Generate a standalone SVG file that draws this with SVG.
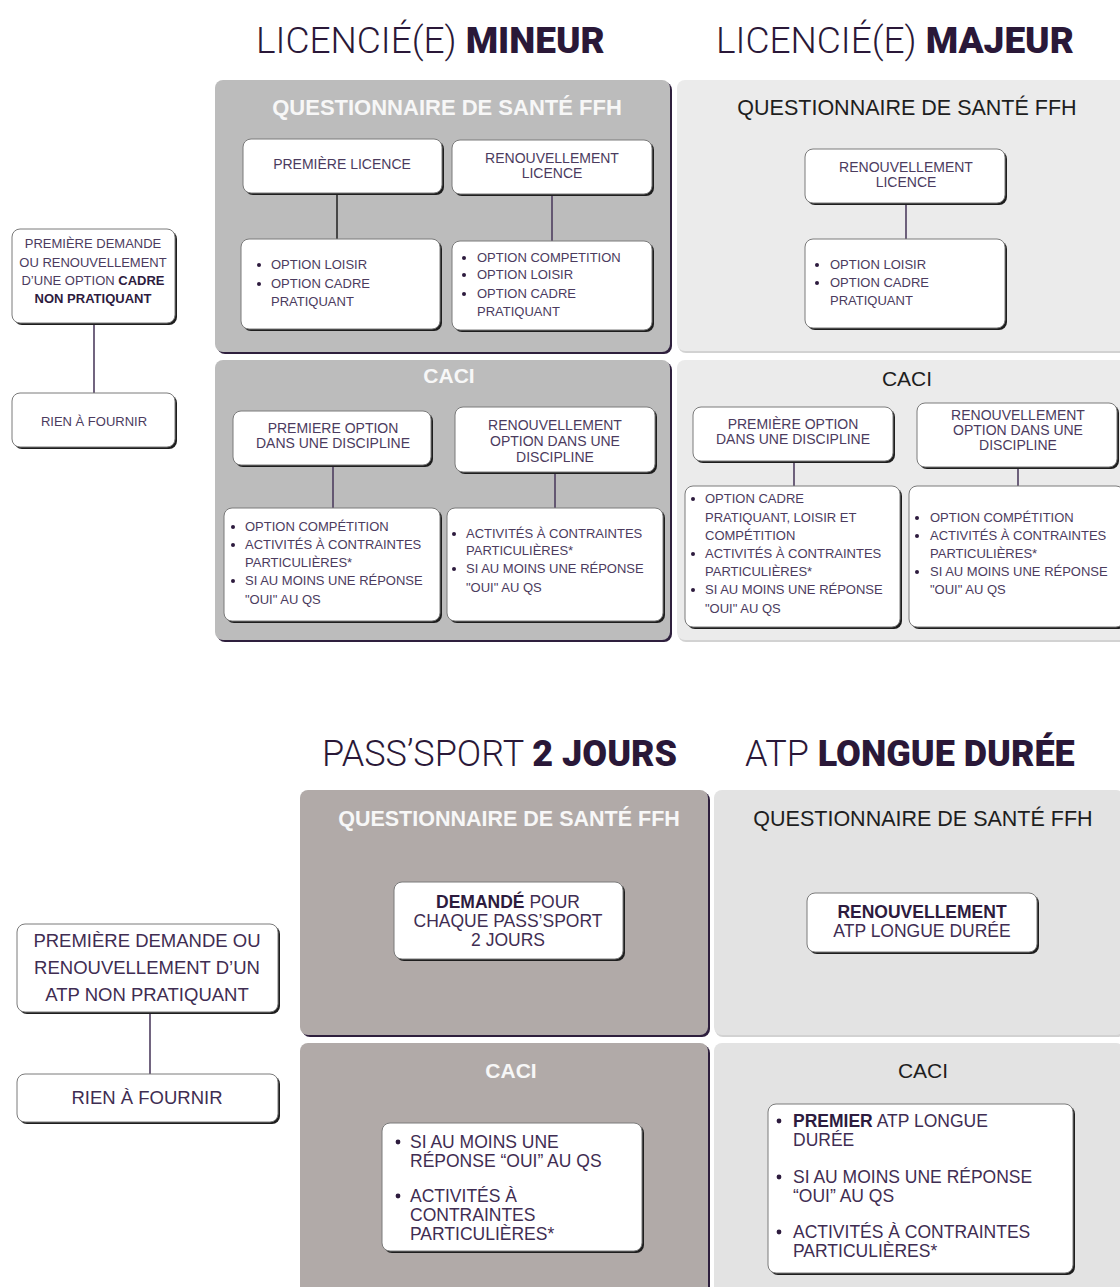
<svg xmlns="http://www.w3.org/2000/svg" width="1120" height="1287" viewBox="0 0 1120 1287">
<style>
.hd{font-family:"Roboto","Liberation Sans",sans-serif;fill:#2a1838}
.lt{font-weight:300}
.bd{font-weight:900}
.pm{fill:#bcbcbc}
.pj{fill:#ebebeb}
.pp{fill:#b1aaa8}
.pa{fill:#e3e3e3}
.psd{fill:#2e1f3d}
.psl{fill:#d2d2d2}
.sh{fill:#1e1e1e}
.bx{fill:#ffffff;stroke:#7a7a7a;stroke-width:1}
.tw{font-family:"Liberation Sans",sans-serif;font-weight:700;fill:#f7f7f7;text-anchor:middle}
.tk{font-family:"Liberation Sans",sans-serif;fill:#1e1e1e;text-anchor:middle}
.t{font-family:"Liberation Sans",sans-serif;font-size:13px;fill:#4b3b5e}
.tc{text-anchor:middle}
.t14{font-size:14px}
.t18{font-size:18.5px;fill:#3f2d52}
.t19{font-size:17.5px;fill:#3f2d52}
.b{font-weight:700;fill:#2d1b3e}
.dot{fill:#2d1b3e}
.cn{stroke:#4e3e60;stroke-width:1.6;fill:none}
.cd{stroke:#2a2a2a;stroke-width:1.6;fill:none}
</style>
<rect width="1120" height="1287" fill="#ffffff"/>

<!-- headers -->
<g id="header-mineur"><text class="hd" x="256" y="53" font-size="37"><tspan class="lt">LICENCIÉ(E) </tspan><tspan class="bd">MINEUR</tspan></text></g>
<g id="header-majeur"><text class="hd" x="716" y="53" font-size="37"><tspan class="lt">LICENCIÉ(E) </tspan><tspan class="bd">MAJEUR</tspan></text></g>
<g id="header-pass"><text class="hd" x="322" y="766" font-size="36"><tspan class="lt">PASS’SPORT </tspan><tspan class="bd">2 JOURS</tspan></text></g>
<g id="header-atp"><text class="hd" x="745" y="766" font-size="36"><tspan class="lt">ATP </tspan><tspan class="bd">LONGUE DURÉE</tspan></text></g>

<!-- panels -->
<g id="panel-qs-mineur">
<rect class="psd" x="217" y="82" width="455" height="272" rx="8"/>
<rect class="pm" x="215" y="80" width="455" height="272" rx="8"/>
<text class="tw" x="447" y="115" font-size="22">QUESTIONNAIRE DE SANTÉ FFH</text>
</g>
<g id="panel-qs-majeur">
<rect class="psl" x="678" y="82" width="450" height="271" rx="8"/>
<rect class="pj" x="677" y="80" width="450" height="271" rx="8"/>
<text class="tk" x="907" y="115" font-size="21.5">QUESTIONNAIRE DE SANTÉ FFH</text>
</g>
<g id="panel-caci-mineur">
<rect class="psd" x="217" y="362" width="455" height="280" rx="8"/>
<rect class="pm" x="215" y="360" width="455" height="280" rx="8"/>
<text class="tw" x="449" y="383" font-size="21">CACI</text>
</g>
<g id="panel-caci-majeur">
<rect class="psl" x="678" y="362" width="450" height="280" rx="8"/>
<rect class="pj" x="677" y="360" width="450" height="280" rx="8"/>
<text class="tk" x="907" y="386" font-size="21">CACI</text>
</g>
<g id="panel-qs-pass">
<rect class="psd" x="302" y="792" width="408" height="245" rx="8"/>
<rect class="pp" x="300" y="790" width="408" height="245" rx="8"/>
<text class="tw" x="509" y="826" font-size="21.5">QUESTIONNAIRE DE SANTÉ FFH</text>
</g>
<g id="panel-qs-atp">
<rect class="psl" x="715" y="792" width="410" height="245" rx="8"/>
<rect class="pa" x="714" y="790" width="410" height="245" rx="8"/>
<text class="tk" x="923" y="826" font-size="21.5">QUESTIONNAIRE DE SANTÉ FFH</text>
</g>
<g id="panel-caci-pass">
<rect class="psd" x="302" y="1045" width="408" height="260" rx="8"/>
<rect class="pp" x="300" y="1043" width="408" height="260" rx="8"/>
<text class="tw" x="511" y="1078" font-size="21">CACI</text>
</g>
<g id="panel-caci-atp">
<rect class="psl" x="715" y="1045" width="410" height="260" rx="8"/>
<rect class="pa" x="714" y="1043" width="410" height="260" rx="8"/>
<text class="tk" x="923" y="1078" font-size="21">CACI</text>
</g>

<!-- connectors -->
<g id="connectors">
<line class="cn" x1="94" y1="323" x2="94" y2="393"/>
<line class="cd" x1="337" y1="193" x2="337" y2="239"/>
<line class="cn" x1="552" y1="194" x2="552" y2="241"/>
<line class="cn" x1="906" y1="203" x2="906" y2="239"/>
<line class="cn" x1="333" y1="465" x2="333" y2="508"/>
<line class="cn" x1="555" y1="472" x2="555" y2="508"/>
<line class="cn" x1="794" y1="461" x2="794" y2="486"/>
<line class="cn" x1="1018" y1="467" x2="1018" y2="486"/>
<line class="cn" x1="150" y1="1013" x2="150" y2="1074"/>
</g>

<!-- left column top -->
<g id="cadre-non-pratiquant">
<rect class="sh" x="14" y="231" width="163" height="94" rx="8"/>
<rect class="bx" x="12" y="229" width="163" height="94" rx="8"/>
<text class="t tc" x="93" y="248">PREMIÈRE DEMANDE</text>
<text class="t tc" x="93" y="267">OU RENOUVELLEMENT</text>
<text class="t tc" x="93" y="285">D’UNE OPTION <tspan class="b">CADRE</tspan></text>
<text class="t tc b" x="93" y="303">NON PRATIQUANT</text>
</g>
<g id="rien-1">
<rect class="sh" x="14" y="395" width="163" height="54" rx="8"/>
<rect class="bx" x="12" y="393" width="163" height="54" rx="8"/>
<text class="t tc" x="94" y="426">RIEN À FOURNIR</text>
</g>

<!-- QS mineur -->
<g id="premiere-licence">
<rect class="sh" x="245" y="141" width="199" height="54" rx="8"/>
<rect class="bx" x="243" y="139" width="199" height="54" rx="8"/>
<text class="t t14 tc" x="342" y="169">PREMIÈRE LICENCE</text>
</g>
<g id="renouvellement-licence-mineur">
<rect class="sh" x="454" y="142" width="200" height="54" rx="8"/>
<rect class="bx" x="452" y="140" width="200" height="54" rx="8"/>
<text class="t t14 tc" x="552" y="163">RENOUVELLEMENT</text>
<text class="t t14 tc" x="552" y="178">LICENCE</text>
</g>
<g id="options-premiere-licence">
<rect class="sh" x="243" y="241" width="199" height="90" rx="8"/>
<rect class="bx" x="241" y="239" width="199" height="90" rx="8"/>
<circle class="dot" cx="259" cy="265" r="2"/><circle class="dot" cx="259" cy="284" r="2"/>
<text class="t" x="271" y="269">OPTION LOISIR</text>
<text class="t" x="271" y="288">OPTION CADRE</text>
<text class="t" x="271" y="306">PRATIQUANT</text>
</g>
<g id="options-renouvellement-mineur">
<rect class="sh" x="454" y="243" width="200" height="89" rx="8"/>
<rect class="bx" x="452" y="241" width="200" height="89" rx="8"/>
<circle class="dot" cx="464" cy="258" r="2"/><circle class="dot" cx="464" cy="275" r="2"/><circle class="dot" cx="464" cy="294" r="2"/>
<text class="t" x="477" y="262">OPTION COMPETITION</text>
<text class="t" x="477" y="279">OPTION LOISIR</text>
<text class="t" x="477" y="298">OPTION CADRE</text>
<text class="t" x="477" y="316">PRATIQUANT</text>
</g>

<!-- QS majeur -->
<g id="renouvellement-licence-majeur">
<rect class="sh" x="807" y="151" width="200" height="54" rx="8"/>
<rect class="bx" x="805" y="149" width="200" height="54" rx="8"/>
<text class="t t14 tc" x="906" y="172">RENOUVELLEMENT</text>
<text class="t t14 tc" x="906" y="187">LICENCE</text>
</g>
<g id="options-majeur">
<rect class="sh" x="807" y="241" width="200" height="89" rx="8"/>
<rect class="bx" x="805" y="239" width="200" height="89" rx="8"/>
<circle class="dot" cx="817" cy="265" r="2"/><circle class="dot" cx="817" cy="283" r="2"/>
<text class="t" x="830" y="269">OPTION LOISIR</text>
<text class="t" x="830" y="287">OPTION CADRE</text>
<text class="t" x="830" y="305">PRATIQUANT</text>
</g>

<!-- CACI mineur -->
<g id="caci-premiere-option-mineur">
<rect class="sh" x="235" y="413" width="198" height="54" rx="8"/>
<rect class="bx" x="233" y="411" width="198" height="54" rx="8"/>
<text class="t t14 tc" x="333" y="433">PREMIERE OPTION</text>
<text class="t t14 tc" x="333" y="448">DANS UNE DISCIPLINE</text>
</g>
<g id="caci-renouvellement-mineur">
<rect class="sh" x="457" y="409" width="200" height="65" rx="8"/>
<rect class="bx" x="455" y="407" width="200" height="65" rx="8"/>
<text class="t t14 tc" x="555" y="430">RENOUVELLEMENT</text>
<text class="t t14 tc" x="555" y="446">OPTION DANS UNE</text>
<text class="t t14 tc" x="555" y="462">DISCIPLINE</text>
</g>
<g id="caci-liste-1-mineur">
<rect class="sh" x="226" y="510" width="216" height="113" rx="8"/>
<rect class="bx" x="224" y="508" width="216" height="113" rx="8"/>
<circle class="dot" cx="233" cy="527" r="2"/><circle class="dot" cx="233" cy="545" r="2"/><circle class="dot" cx="233" cy="581" r="2"/>
<text class="t" x="245" y="531">OPTION COMPÉTITION</text>
<text class="t" x="245" y="549">ACTIVITÉS À CONTRAINTES</text>
<text class="t" x="245" y="567">PARTICULIÈRES*</text>
<text class="t" x="245" y="585">SI AU MOINS UNE RÉPONSE</text>
<text class="t" x="245" y="604">"OUI" AU QS</text>
</g>
<g id="caci-liste-2-mineur">
<rect class="sh" x="449" y="510" width="216" height="113" rx="8"/>
<rect class="bx" x="447" y="508" width="216" height="113" rx="8"/>
<circle class="dot" cx="454" cy="534" r="2"/><circle class="dot" cx="454" cy="569" r="2"/>
<text class="t" x="466" y="538">ACTIVITÉS À CONTRAINTES</text>
<text class="t" x="466" y="555">PARTICULIÈRES*</text>
<text class="t" x="466" y="573">SI AU MOINS UNE RÉPONSE</text>
<text class="t" x="466" y="592">"OUI" AU QS</text>
</g>

<!-- CACI majeur -->
<g id="caci-premiere-option-majeur">
<rect class="sh" x="695" y="409" width="200" height="54" rx="8"/>
<rect class="bx" x="693" y="407" width="200" height="54" rx="8"/>
<text class="t t14 tc" x="793" y="429">PREMIÈRE OPTION</text>
<text class="t t14 tc" x="793" y="444">DANS UNE DISCIPLINE</text>
</g>
<g id="caci-renouvellement-majeur">
<rect class="sh" x="919" y="405" width="200" height="64" rx="8"/>
<rect class="bx" x="917" y="403" width="200" height="64" rx="8"/>
<text class="t t14 tc" x="1018" y="420">RENOUVELLEMENT</text>
<text class="t t14 tc" x="1018" y="435">OPTION DANS UNE</text>
<text class="t t14 tc" x="1018" y="450">DISCIPLINE</text>
</g>
<g id="caci-liste-1-majeur">
<rect class="sh" x="687" y="488" width="215" height="141" rx="8"/>
<rect class="bx" x="685" y="486" width="215" height="141" rx="8"/>
<circle class="dot" cx="693" cy="499" r="2"/><circle class="dot" cx="693" cy="554" r="2"/><circle class="dot" cx="693" cy="590" r="2"/>
<text class="t" x="705" y="503">OPTION CADRE</text>
<text class="t" x="705" y="522">PRATIQUANT, LOISIR ET</text>
<text class="t" x="705" y="540">COMPÉTITION</text>
<text class="t" x="705" y="558">ACTIVITÉS À CONTRAINTES</text>
<text class="t" x="705" y="576">PARTICULIÈRES*</text>
<text class="t" x="705" y="594">SI AU MOINS UNE RÉPONSE</text>
<text class="t" x="705" y="613">"OUI" AU QS</text>
</g>
<g id="caci-liste-2-majeur">
<rect class="sh" x="911" y="488" width="215" height="141" rx="8"/>
<rect class="bx" x="909" y="486" width="215" height="141" rx="8"/>
<circle class="dot" cx="917" cy="518" r="2"/><circle class="dot" cx="917" cy="536" r="2"/><circle class="dot" cx="917" cy="572" r="2"/>
<text class="t" x="930" y="522">OPTION COMPÉTITION</text>
<text class="t" x="930" y="540">ACTIVITÉS À CONTRAINTES</text>
<text class="t" x="930" y="558">PARTICULIÈRES*</text>
<text class="t" x="930" y="576">SI AU MOINS UNE RÉPONSE</text>
<text class="t" x="930" y="594">"OUI" AU QS</text>
</g>

<!-- bottom left -->
<g id="atp-non-pratiquant">
<rect class="sh" x="19" y="926" width="261" height="88" rx="8"/>
<rect class="bx" x="17" y="924" width="261" height="88" rx="8"/>
<text class="t t18 tc" x="147" y="947">PREMIÈRE DEMANDE OU</text>
<text class="t t18 tc" x="147" y="974">RENOUVELLEMENT D’UN</text>
<text class="t t18 tc" x="147" y="1001">ATP NON PRATIQUANT</text>
</g>
<g id="rien-2">
<rect class="sh" x="19" y="1076" width="261" height="48" rx="8"/>
<rect class="bx" x="17" y="1074" width="261" height="48" rx="8"/>
<text class="t t18 tc" x="147" y="1104">RIEN À FOURNIR</text>
</g>

<!-- QS pass / atp -->
<g id="demande-pass">
<rect class="sh" x="396" y="884" width="229" height="77" rx="8"/>
<rect class="bx" x="394" y="882" width="229" height="77" rx="8"/>
<text class="t t19 tc" x="508" y="908"><tspan class="b">DEMANDÉ</tspan> POUR</text>
<text class="t t19 tc" x="508" y="927">CHAQUE PASS’SPORT</text>
<text class="t t19 tc" x="508" y="946">2 JOURS</text>
</g>
<g id="renouvellement-atp">
<rect class="sh" x="809" y="895" width="230" height="59" rx="8"/>
<rect class="bx" x="807" y="893" width="230" height="59" rx="8"/>
<text class="t t19 tc b" x="922" y="918">RENOUVELLEMENT</text>
<text class="t t19 tc" x="922" y="937">ATP LONGUE DURÉE</text>
</g>

<!-- CACI pass / atp -->
<g id="caci-pass-liste">
<rect class="sh" x="384" y="1125" width="260" height="128" rx="8"/>
<rect class="bx" x="382" y="1123" width="260" height="128" rx="8"/>
<circle class="dot" cx="398" cy="1142" r="2.4"/><circle class="dot" cx="398" cy="1196" r="2.4"/>
<text class="t t19" x="410" y="1148">SI AU MOINS UNE</text>
<text class="t t19" x="410" y="1167">RÉPONSE “OUI” AU QS</text>
<text class="t t19" x="410" y="1202">ACTIVITÉS À</text>
<text class="t t19" x="410" y="1221">CONTRAINTES</text>
<text class="t t19" x="410" y="1240">PARTICULIÈRES*</text>
</g>
<g id="caci-atp-liste">
<rect class="sh" x="770" y="1106" width="305" height="169" rx="8"/>
<rect class="bx" x="768" y="1104" width="305" height="169" rx="8"/>
<circle class="dot" cx="779" cy="1121" r="2.4"/><circle class="dot" cx="779" cy="1177" r="2.4"/><circle class="dot" cx="779" cy="1232" r="2.4"/>
<text class="t t19" x="793" y="1127"><tspan class="b">PREMIER</tspan> ATP LONGUE</text>
<text class="t t19" x="793" y="1146">DURÉE</text>
<text class="t t19" x="793" y="1183">SI AU MOINS UNE RÉPONSE</text>
<text class="t t19" x="793" y="1202">“OUI” AU QS</text>
<text class="t t19" x="793" y="1238">ACTIVITÉS À CONTRAINTES</text>
<text class="t t19" x="793" y="1257">PARTICULIÈRES*</text>
</g>
</svg>
